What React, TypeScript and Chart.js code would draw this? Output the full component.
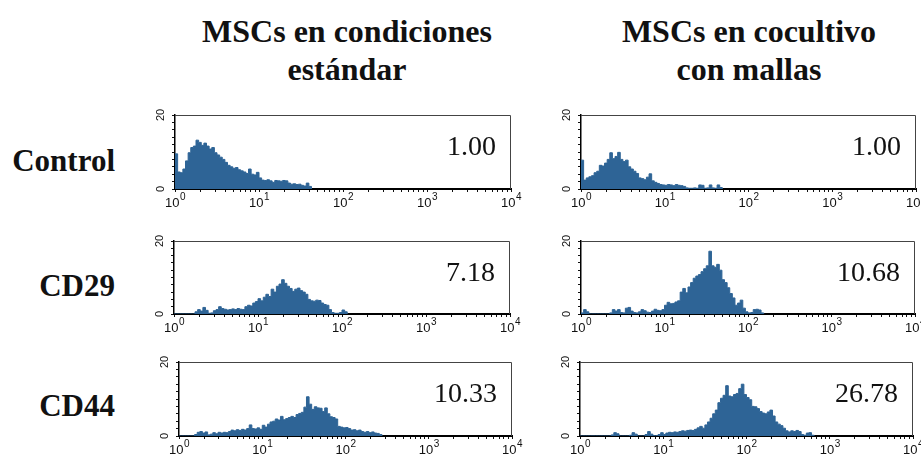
import React, { useEffect, useRef } from "react";
import { Chart, registerables } from "chart.js";

Chart.register(...registerables);

// ---------------- data ----------------
// histogram channels: 32 channels per decade, starting at 10^0
const BINS_PER_DECADE = 32;

const controlStandard = [
  9.5, 4.6, 4.4, 5.4, 7.6, 9.8, 11.2, 11.6, 13.2, 12.6, 11.8, 12.4, 11.6, 10.8, 11.2, 9.8,
  9.2, 8.6, 8.0, 7.2, 6.4, 6.0, 5.6, 5.8, 5.2, 4.9, 4.6, 4.2, 5.4, 4.0, 3.8, 4.5,
  3.0, 2.4, 2.3, 2.5, 2.2, 1.8, 2.3, 2.2, 2.1, 2.3, 2.2, 1.6, 1.3, 1.4, 1.2, 1.3,
  1.0, 0.8, 1.6, 0.7,
];

const controlMesh = [
  7.8, 2.4, 3.0, 3.3, 3.6, 4.4, 4.8, 6.4, 6.2, 7.0, 8.0, 9.8, 8.2, 8.8, 9.9, 8.0,
  7.4, 7.8, 6.0, 5.4, 4.8, 4.2, 3.0, 2.8, 2.5, 3.2, 4.1, 2.2, 1.8, 1.5, 1.2, 1.1,
  1.0, 1.2, 1.1, 0.9, 1.2, 1.0, 0.9, 0.7, 0.3, 0.2, 0.2, 0.3, 0.2, 1.1, 1.0, 0.2,
  0.3, 1.1, 0.3, 0.2, 1.1, 0.4,
];

const cd29Standard = [
  0, 0, 0, 0, 0, 0, 0, 0, 0.6, 1.2, 0.8, 1.8, 1.0, 0.2, 0.3, 0.9,
  1.2, 2.0, 1.5, 1.3, 1.1, 1.2, 1.4, 1.2, 1.5, 1.3, 1.2, 2.0, 2.4, 2.2, 3.0, 3.4,
  4.2, 3.6, 4.6, 5.4, 4.8, 6.8, 6.0, 7.6, 8.2, 9.4, 8.4, 7.6, 7.0, 6.2, 6.8, 7.1,
  6.4, 6.0, 5.4, 4.0, 3.6, 3.5, 3.8, 3.7, 3.0, 2.6, 2.4, 1.2, 0.4, 0.2, 0.2, 0.4,
  1.1, 0.6,
];

const cd29Mesh = [
  0.3, 1.2, 0.6, 0, 0, 0, 0, 0, 0, 0, 0, 0.3, 1.2, 0.8, 1.2, 0.4,
  0.3, 1.6, 1.8, 0.8, 0.4, 0.3, 0.6, 1.2, 0.9, 0.5, 0.4, 0.8, 1.3, 1.0, 0.9, 1.2,
  2.4, 3.2, 2.8, 2.9, 3.3, 3.6, 6.0, 7.0, 5.8, 7.4, 8.6, 9.8, 10.4, 10.8, 11.6, 12.4,
  13.2, 17.2, 13.2, 12.8, 13.6, 12.0, 9.4, 8.6, 7.2, 5.6, 4.4, 2.4, 3.0, 3.8, 1.6, 0.6,
  0.3, 0.4, 1.2, 1.3, 1.1, 0.3,
];

const cd44Standard = [
  0, 0, 0, 0, 0, 0, 0.4, 1.0, 1.2, 0.8, 1.1, 0.3, 0.5, 0.9, 0.6, 1.0,
  0.8, 1.0, 0.9, 1.2, 1.6, 1.4, 1.7, 1.5, 1.8, 1.6, 2.0, 3.0, 2.0, 1.9, 2.2, 1.8,
  2.9, 2.4, 3.2, 3.8, 4.0, 4.6, 4.3, 5.3, 4.4, 4.7, 5.0, 5.3, 5.0, 5.8, 6.1, 6.4,
  7.8, 10.6, 8.6, 7.2, 7.9, 7.6, 7.5, 6.6, 7.6, 6.0, 5.2, 5.0, 4.6, 2.6, 2.4, 2.2,
  2.3, 2.0, 1.6, 1.7, 1.4, 1.6, 1.2, 1.0, 1.2, 0.9, 1.1, 0.8, 0.7, 0.4,
];

const cd44Mesh = [
  0, 0, 0, 0, 0, 0, 0, 0, 0, 0, 0, 0, 0.3, 0.9, 0.6, 0,
  0, 0, 0, 0.2, 0.9, 0.5, 0, 0, 0, 0.4, 1.2, 0.5, 0.1, 0.1, 0.4, 0.9,
  0.4, 0.8, 1.0, 0.9, 1.1, 1.0, 1.2, 1.4, 1.3, 1.5, 1.6, 1.5, 1.8, 2.2, 2.6, 2.1,
  3.0, 3.8, 4.8, 6.0, 7.0, 9.0, 10.2, 11.0, 13.6, 10.8, 10.6, 11.2, 11.5, 12.8, 14.0, 11.2,
  10.4, 9.8, 8.0, 7.9, 7.4, 6.6, 6.2, 6.0, 6.5, 7.0, 5.4, 3.8, 3.2, 2.8, 2.1, 1.4,
  1.1, 1.4, 1.2, 1.5, 1.2, 0.4, 0.2, 0.8, 0.9, 0.2,
];

const panelSeries = [controlStandard, controlMesh, cd29Standard, cd29Mesh, cd44Standard, cd44Mesh];
const scoreLabels = ["1.00", "1.00", "7.18", "10.68", "10.33", "26.78"];
const rowLabels = ["Control", "CD29", "CD44"];
const columnTitles = [
  ["MSCs en condiciones", "estándar"],
  ["MSCs en cocultivo", "con mallas"],
];
const xDecadeExponents = [0, 1, 2, 3, 4];
const xMinorMultipliers = [1, 2, 3, 4, 5, 6, 7, 8, 9];
const yTickValues = [0, 2, 4, 6, 8, 10, 12, 14, 16, 18, 20];
const yLabelValues = [0, 20];
const yMax = 20;

// ---------------- layout / style ----------------
const FILL = "#2e6496";
const panelBoxes = [
  { left: 175, top: 115, right: 511, bottom: 189 },
  { left: 581, top: 115, right: 916, bottom: 189 },
  { left: 174, top: 241, right: 510, bottom: 314 },
  { left: 581, top: 241, right: 915, bottom: 314 },
  { left: 179, top: 362, right: 512, bottom: 436 },
  { left: 580, top: 362, right: 913, bottom: 436 },
];
const rowCenters = [160, 285, 405];
const rowLabelRight = 115;
const titleCenters = [347, 749];
const titleLineCenters = [31, 69];
const scoreCenterOffset = 31;
const scoreRightInset = 15;

const ML = 40;
const MR = 16;
const MT = 10;
const MB = 26;
const TICK = 3;

const xTickValues: number[] = [];
xDecadeExponents.forEach((e) => {
  if (e === xDecadeExponents[xDecadeExponents.length - 1]) {
    xTickValues.push(Math.pow(10, e));
  } else {
    xMinorMultipliers.forEach((m) => xTickValues.push(m * Math.pow(10, e)));
  }
});

const axisLabelPlugin = {
  id: "axisLabels",
  afterDraw(chart: any) {
    const { ctx, chartArea } = chart;
    const xs = chart.scales.x;
    const ys = chart.scales.y;
    ctx.save();
    // frame top/right
    ctx.strokeStyle = "#444";
    ctx.lineWidth = 1;
    ctx.beginPath();
    ctx.moveTo(chartArea.left, chartArea.top + 0.5);
    ctx.lineTo(chartArea.right - 0.5, chartArea.top + 0.5);
    ctx.lineTo(chartArea.right - 0.5, chartArea.bottom);
    ctx.stroke();

    ctx.fillStyle = "#111";
    // x labels 10^n
    const mainFont = "13px 'Liberation Sans', Arial, sans-serif";
    const supFont = "10px 'Liberation Sans', Arial, sans-serif";
    ctx.textAlign = "left";
    ctx.textBaseline = "alphabetic";
    xDecadeExponents.forEach((e) => {
      const px = xs.getPixelForValue(Math.pow(10, e));
      ctx.font = mainFont;
      const w1 = ctx.measureText("10").width;
      ctx.font = supFont;
      const w2 = ctx.measureText(String(e)).width;
      const start = px - (w1 + w2) / 2;
      ctx.font = mainFont;
      ctx.fillText("10", start, chartArea.bottom + 18);
      ctx.font = supFont;
      ctx.fillText(String(e), start + w1 + 0.5, chartArea.bottom + 11);
    });
    // y labels rotated
    ctx.font = "11px 'Liberation Sans', Arial, sans-serif";
    ctx.textAlign = "center";
    yLabelValues.forEach((v) => {
      const py = ys.getPixelForValue(v);
      ctx.save();
      ctx.translate(chartArea.left - 11, py);
      ctx.rotate(-Math.PI / 2);
      ctx.fillText(String(v), 0, 0);
      ctx.restore();
    });
    ctx.restore();
  },
};

function Histogram({ values, box }: { values: number[]; box: { left: number; top: number; right: number; bottom: number } }) {
  const ref = useRef<HTMLCanvasElement>(null);
  const w = box.right - box.left + ML + MR;
  const h = box.bottom - box.top + MT + MB;
  useEffect(() => {
    const points = values.map((v, i) => ({ x: Math.pow(10, i / BINS_PER_DECADE), y: v }));
    points.push({ x: Math.pow(10, values.length / BINS_PER_DECADE), y: 0 });
    const chart = new Chart(ref.current as HTMLCanvasElement, {
      type: "line",
      data: {
        datasets: [
          {
            data: points,
            stepped: "before",
            fill: "origin",
            backgroundColor: FILL,
            borderColor: FILL,
            borderWidth: 1,
            pointRadius: 0,
          } as any,
        ],
      },
      options: {
        animation: false,
        responsive: false,
        devicePixelRatio: 1,
        layout: { padding: { left: ML - TICK, right: MR, top: MT, bottom: MB - TICK } },
        plugins: { legend: { display: false }, tooltip: { enabled: false } },
        scales: {
          x: {
            type: "logarithmic",
            min: 1,
            max: 10000,
            z: 1,
            afterBuildTicks: (s: any) => {
              s.ticks = xTickValues.map((v) => ({ value: v }));
            },
            ticks: { display: false },
            grid: { drawOnChartArea: false, drawTicks: true, tickLength: TICK, tickColor: "#111", tickWidth: 1 },
            border: { display: true, color: "#000", width: 2 },
          },
          y: {
            type: "linear",
            min: 0,
            max: yMax,
            z: 1,
            afterBuildTicks: (s: any) => {
              s.ticks = yTickValues.map((v) => ({ value: v }));
            },
            ticks: { display: false },
            grid: { drawOnChartArea: false, drawTicks: true, tickLength: TICK, tickColor: "#111", tickWidth: 1 },
            border: { display: true, color: "#000", width: 1.5 },
          },
        },
      } as any,
      plugins: [axisLabelPlugin],
    });
    return () => chart.destroy();
  }, [values]);
  return (
    <canvas
      ref={ref}
      width={w}
      height={h}
      style={{ position: "absolute", left: box.left - ML, top: box.top - MT, width: w, height: h }}
    />
  );
}

const serif = "'Liberation Serif', 'Times New Roman', serif";

function TextAt({ text, cx, cy, size, bold, align }: { text: string; cx: number; cy: number; size: number; bold?: boolean; align: "center" | "right" }) {
  const width = 400;
  const left = align === "center" ? cx - width / 2 : cx - width;
  return (
    <div
      style={{
        position: "absolute",
        left,
        top: cy - size / 2,
        width,
        textAlign: align,
        fontFamily: serif,
        fontSize: size,
        lineHeight: `${size}px`,
        fontWeight: bold ? 700 : 400,
        color: "#111",
        whiteSpace: "nowrap",
      }}
    >
      {text}
    </div>
  );
}

export default function App() {
  return (
    <div
      style={{
        position: "absolute",
        left: 0,
        top: 0,
        width: 921,
        height: 459,
        overflow: "hidden",
        background: "#fff",
      }}
    >
      {columnTitles.map((lines, c) =>
        lines.map((t, l) => (
          <TextAt key={`t${c}${l}`} text={t} cx={titleCenters[c]} cy={titleLineCenters[l]} size={32} bold align="center" />
        ))
      )}
      {rowLabels.map((t, r) => (
        <TextAt key={`r${r}`} text={t} cx={rowLabelRight} cy={rowCenters[r]} size={31} bold align="right" />
      ))}
      {panelSeries.map((vals, i) => (
        <Histogram key={`p${i}`} values={vals} box={panelBoxes[i]} />
      ))}
      {scoreLabels.map((s, i) => (
        <TextAt
          key={`s${i}`}
          text={s}
          cx={panelBoxes[i].right - scoreRightInset}
          cy={panelBoxes[i].top + scoreCenterOffset}
          size={28}
          align="right"
        />
      ))}
    </div>
  );
}
